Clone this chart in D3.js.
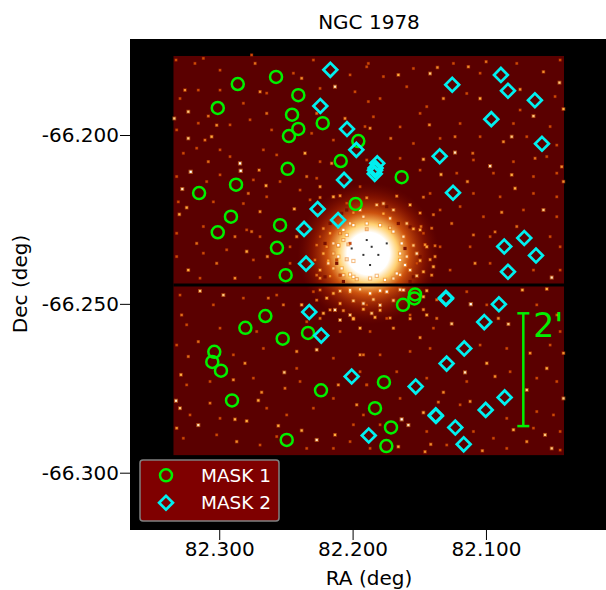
<!DOCTYPE html>
<html>
<head>
<meta charset="utf-8">
<script src="https://d3js.org/d3.v7.min.js"></script>
<style>
  html, body { margin: 0; padding: 0; background: #fff; }
  text { font-family: "DejaVu Sans", sans-serif; }
</style>
</head>
<body>
<svg id="chart" width="606" height="590"></svg>
<script>
// Values, in RA / Dec degrees.
const xTicks = [82.3, 82.2, 82.1];
const yTicks = [-66.2, -66.25, -66.3];

const mask1 = [
  [82.2861, -66.1849], [82.2574, -66.1828], [82.3011, -66.1920], [82.2407, -66.1882],
  [82.2454, -66.1940], [82.2224, -66.1965], [82.2407, -66.1982], [82.2477, -66.2003],
  [82.1957, -66.2018], [82.2089, -66.2077], [82.2487, -66.2100], [82.2874, -66.2147],
  [82.3151, -66.2172], [82.1977, -66.2204], [82.2912, -66.2242], [82.2544, -66.2267],
  [82.3011, -66.2288], [82.2567, -66.2334], [82.2502, -66.2415], [82.1632, -66.2125],
  [82.2654, -66.2536], [82.2804, -66.2571], [82.2524, -66.2603], [82.2334, -66.2586],
  [82.3037, -66.2642], [82.3052, -66.2672], [82.2987, -66.2698], [82.2904, -66.2786],
  [82.2237, -66.2756], [82.2494, -66.2903], [82.1532, -66.2472], [82.1537, -66.2484],
  [82.1622, -66.2503], [82.1765, -66.2732], [82.1832, -66.2809], [82.1712, -66.2866],
  [82.1747, -66.2921]
];

const mask2 = [
  [82.2167, -66.1807], [82.2242, -66.1914], [82.2042, -66.1982], [82.1972, -66.2044],
  [82.2064, -66.2133], [82.2262, -66.2219], [82.2109, -66.2252], [82.2364, -66.2278],
  [82.2349, -66.2381], [82.1253, -66.1851], [82.0888, -66.1822], [82.0835, -66.1869],
  [82.0633, -66.1897], [82.0960, -66.1953], [82.0580, -66.2026], [82.1347, -66.2063],
  [82.1815, -66.2084], [82.1828, -66.2098], [82.1832, -66.2104], [82.1834, -66.2115],
  [82.1247, -66.2171], [82.0713, -66.2305], [82.0863, -66.2330], [82.0625, -66.2357],
  [82.0835, -66.2405], [82.2325, -66.2524], [82.2235, -66.2594], [82.2007, -66.2715],
  [82.1879, -66.2890], [82.1300, -66.2482], [82.1300, -66.2485], [82.0903, -66.2501],
  [82.1013, -66.2554], [82.1163, -66.2632], [82.1295, -66.2677], [82.1527, -66.2745],
  [82.1377, -66.2830], [82.1375, -66.2832], [82.1230, -66.2866], [82.1002, -66.2814],
  [82.0860, -66.2777], [82.1167, -66.2916]
];

// Brighter field stars picked out of the image by eye: ra, dec, brightness (0..1).
const fieldStars = [
  [82.2844, -66.2084, 1], [82.3214, -66.2109, 1], [82.2839, -66.2106, 1], [82.3277, -66.2160, .9],
  [82.2701, -66.2104, .6], [82.2649, -66.2150, .7], [82.2437, -66.2219, .7], [82.3244, -66.2215, .7],
  [82.3232, -66.1931, .8], [82.3257, -66.1867, .6], [82.3019, -66.1971, .6], [82.3232, -66.2010, .8],
  [82.3082, -66.1944, .5], [82.3337, -66.1951, .8], [82.2694, -66.1872, .6], [82.2731, -66.1788, .5],
  [82.2382, -66.1832, .6], [82.2132, -66.1857, .9], [82.2269, -66.1936, .5], [82.2057, -66.1951, .6],
  [82.2644, -66.1936, .5], [82.3107, -66.2015, .5], [82.3057, -66.2005, .7], [82.2794, -66.2345, .7],
  [82.2639, -66.2360, .6], [82.2882, -66.2301, .5], [82.3299, -66.2235, .7], [82.2157, -66.2084, .6],
  [82.2357, -66.2054, .7], [82.2244, -66.2153, .6], [82.2144, -66.2183, .7], [82.2344, -66.2123, .5],
  [82.2694, -66.2227, .6], [82.2419, -66.2301, .6], [82.2194, -66.2331, .6], [82.2094, -66.2291, .7],
  [82.2757, -66.2286, .5], [82.3232, -66.2400, .7], [82.3019, -66.2380, .5], [82.2882, -66.2424, .6],
  [82.2244, -66.2424, .6], [82.3169, -66.2321, .5], [82.2782, -66.2173, .5], [82.3082, -66.2079, .5],

  [82.1657, -66.1822, .7], [82.1419, -66.1818, .8], [82.1364, -66.1800, .6], [82.1132, -66.1798, .6],
  [82.0999, -66.1783, .5], [82.0569, -66.1813, .6], [82.0449, -66.1845, .8], [82.1319, -66.1892, .6],
  [82.1044, -66.1892, .7], [82.0744, -66.1865, .6], [82.0419, -66.1923, .7], [82.0644, -66.1944, .8],
  [82.1424, -66.1970, .6], [82.1232, -66.2052, .9], [82.1099, -66.2054, .5], [82.1869, -66.1980, .6],
  [82.1714, -66.2010, .5], [82.1469, -66.2072, .7], [82.1337, -66.2117, .7], [82.1232, -66.2005, .5],
  [82.0869, -66.2020, .6], [82.0807, -66.2005, .8], [82.0969, -66.2092, .9], [82.0632, -66.2069, .5],
  [82.0432, -66.2094, .6], [82.0807, -66.2118, .7], [82.1139, -66.2138, .6], [82.0782, -66.2158, .7],
  [82.0569, -66.2222, .8], [82.0882, -66.2229, .6], [82.0769, -66.2271, .5], [82.1382, -66.2360, .6],
  [82.1487, -66.2271, .5], [82.0507, -66.2422, .9], [82.1094, -66.2296, .5], [82.1257, -66.2262, .5],
  [82.0932, -66.2287, .5], [82.0419, -66.2138, .6], [82.1082, -66.2380, .6],

  [82.3144, -66.2462, .8], [82.2969, -66.2474, .8], [82.3324, -66.2787, .9], [82.3294, -66.2809, .8],
  [82.2882, -66.2842, .7], [82.3157, -66.2859, .9], [82.2794, -66.2847, .7], [82.2557, -66.2861, .7],
  [82.2382, -66.2875, .7], [82.2269, -66.2903, .9], [82.2132, -66.2888, .7], [82.2707, -66.2786, .7],
  [82.2894, -66.2725, .6], [82.2512, -66.2703, .8], [82.2682, -66.2762, .6], [82.3287, -66.2710, .7],
  [82.3319, -66.2868, .6], [82.1944, -66.2651, .6], [82.2094, -66.2548, .8], [82.2107, -66.2740, .6],
  [82.2269, -66.2636, .8], [82.2507, -66.2750, .5], [82.2807, -66.2676, .6], [82.2419, -66.2641, .6],
  [82.3069, -66.2794, .5], [82.3157, -66.2612, .5], [82.3232, -66.2656, .5], [82.1969, -66.2799, .6],
  [82.2132, -66.2518, .9], [82.2382, -66.2503, .7], [82.2194, -66.2483, .7], [82.2019, -66.2464, .8],
  [82.1994, -66.2543, .7], [82.2632, -66.2483, .5], [82.3282, -66.2533, .5], [82.2869, -66.2908, .6],
  [82.1944, -66.2572, .7], [82.2519, -66.2503, .5],

  [82.1114, -66.2501, 1], [82.0727, -66.2459, .7], [82.0544, -66.2456, .7], [82.0832, -66.2560, .8],
  [82.0907, -66.2543, .6], [82.0669, -66.2646, .6], [82.0994, -66.2676, .7], [82.1157, -66.2703, .9],
  [82.0932, -66.2715, .6], [82.0419, -66.2780, .8], [82.0694, -66.2755, .8], [82.1632, -66.2842, 1],
  [82.1469, -66.2822, .7], [82.1582, -66.2859, .9], [82.1357, -66.2791, .5], [82.1319, -66.2762, .6],
  [82.1257, -66.2559, .8], [82.1494, -66.2600, .6], [82.1919, -66.2651, .5], [82.1832, -66.2540, .7],
  [82.1694, -66.2572, .6], [82.0544, -66.2691, .7], [82.0419, -66.2646, .6], [82.0557, -66.2888, .8],
  [82.0794, -66.2873, .7], [82.0694, -66.2908, .6], [82.1414, -66.2916, .6], [82.1027, -66.2935, .6],
  [82.1457, -66.2938, .6], [82.1657, -66.2923, .7], [82.0507, -66.2928, .8], [82.1119, -66.2789, .6]
];

// Fainter specks, also placed by eye, one brightness for the lot.
const faintStars = [
  [82.3324, -66.1778], [82.3182, -66.1788], [82.3119, -66.1773], [82.2994, -66.1808], [82.2757, -66.1763],
  [82.2444, -66.1817], [82.2294, -66.1778], [82.2019, -66.1822], [82.1894, -66.1798], [82.3294, -66.1892],
  [82.3157, -66.1867], [82.2994, -66.1867], [82.2819, -66.1906], [82.2644, -66.1876], [82.2244, -66.1862],
  [82.1982, -66.1872], [82.1882, -66.1901], [82.3319, -66.1985], [82.3157, -66.1965], [82.2919, -66.1970],
  [82.2769, -66.1955], [82.2607, -66.1985], [82.2307, -66.1995], [82.2144, -66.2015], [82.1907, -66.1975],
  [82.3269, -66.2054], [82.3169, -66.2039], [82.2994, -66.2044], [82.2919, -66.2064], [82.2669, -66.2044],
  [82.2569, -66.2059], [82.2244, -66.2079], [82.1894, -66.2074], [82.3319, -66.2123], [82.3094, -66.2138],
  [82.2994, -66.2118], [82.2744, -66.2133], [82.2544, -66.2138], [82.2394, -66.2163], [82.2269, -66.2128],
  [82.1944, -66.2153], [82.3307, -66.2198], [82.3044, -66.2198], [82.2819, -66.2203], [82.2644, -66.2183],
  [82.2319, -66.2192], [82.2044, -66.2202], [82.3319, -66.2291], [82.3119, -66.2271], [82.2794, -66.2281],
  [82.2694, -66.2301], [82.2469, -66.2331], [82.2244, -66.2301], [82.2019, -66.2321], [82.3319, -66.2360],
  [82.3119, -66.2350], [82.2944, -66.2340], [82.2744, -66.2370], [82.2469, -66.2380], [82.2119, -66.2370],
  [82.2094, -66.2415], [82.3144, -66.2424], [82.2694, -66.2422],

  [82.1882, -66.1788], [82.1769, -66.1827], [82.1544, -66.1803], [82.1244, -66.1788], [82.1044, -66.1817],
  [82.0769, -66.1788], [82.0444, -66.1778], [82.1794, -66.1892], [82.1594, -66.1857], [82.1444, -66.1916],
  [82.1144, -66.1877], [82.0744, -66.1926], [82.0482, -66.1886], [82.1844, -66.1946], [82.1644, -66.1976],
  [82.1494, -66.1936], [82.1194, -66.1966], [82.0794, -66.1966], [82.0519, -66.1975], [82.1544, -66.2025],
  [82.1344, -66.2010], [82.1044, -66.2005], [82.0694, -66.2005], [82.0469, -66.2030], [82.1644, -66.2069],
  [82.1094, -66.2074], [82.0794, -66.2079], [82.0544, -66.2064], [82.1494, -66.2104], [82.1219, -66.2113],
  [82.0944, -66.2113], [82.0644, -66.2123], [82.0469, -66.2113], [82.1419, -66.2173], [82.1094, -66.2173],
  [82.0894, -66.2183], [82.0644, -66.2173], [82.0469, -66.2183], [82.1344, -66.2222], [82.1194, -66.2212],
  [82.1019, -66.2242], [82.0719, -66.2222], [82.0469, -66.2242], [82.1469, -66.2291], [82.1119, -66.2331],
  [82.0969, -66.2301], [82.0519, -66.2301], [82.0444, -66.2331], [82.1519, -66.2380], [82.1269, -66.2400],
  [82.0969, -66.2380], [82.0644, -66.2400], [82.0444, -66.2400], [82.1344, -66.2331],

  [82.3294, -66.2474], [82.3044, -66.2503], [82.2819, -66.2483], [82.2569, -66.2474], [82.2294, -66.2464],
  [82.3244, -66.2562], [82.2994, -66.2572], [82.2719, -66.2582], [82.2344, -66.2553], [82.2094, -66.2582],
  [82.1894, -66.2503], [82.3319, -66.2622], [82.2894, -66.2651], [82.2669, -66.2632], [82.2419, -66.2691],
  [82.2144, -66.2661], [82.1944, -66.2701], [82.3244, -66.2740], [82.3069, -66.2730], [82.2744, -66.2720],
  [82.2394, -66.2730], [82.2144, -66.2780], [82.1894, -66.2740], [82.3219, -66.2829], [82.2994, -66.2839],
  [82.2644, -66.2809], [82.2494, -66.2829], [82.2294, -66.2809], [82.1994, -66.2858], [82.3269, -66.2898],
  [82.3019, -66.2888], [82.2694, -66.2918], [82.2569, -66.2893], [82.2344, -66.2928], [82.2144, -66.2928],
  [82.2019, -66.2908],

  [82.1869, -66.2582], [82.1744, -66.2543], [82.1569, -66.2533], [82.1394, -66.2572], [82.1144, -66.2464],
  [82.0994, -66.2503], [82.0619, -66.2503], [82.0469, -66.2533], [82.1794, -66.2651], [82.1569, -66.2641],
  [82.1419, -66.2632], [82.1044, -66.2622], [82.0844, -66.2632], [82.0519, -66.2622], [82.0444, -66.2582],
  [82.1669, -66.2701], [82.1444, -66.2720], [82.1144, -66.2730], [82.0819, -66.2701], [82.0619, -66.2720],
  [82.0469, -66.2730], [82.1894, -66.2740], [82.1644, -66.2780], [82.1194, -66.2799], [82.0844, -66.2839],
  [82.0619, -66.2819], [82.0494, -66.2829], [82.1919, -66.2829], [82.1794, -66.2858], [82.1444, -66.2878],
  [82.1094, -66.2878], [82.0944, -66.2898], [82.0644, -66.2868], [82.0444, -66.2878], [82.1869, -66.2928],
  [82.1294, -66.2918], [82.0844, -66.2928], [82.0444, -66.2933]
];
const faintLevel = 0.38;

// Speckle of resolved stars on the outskirts of the cluster, and the dark pixels in its core.
const clusterStars = [
  [82.1819, -66.2207, .8], [82.1694, -66.2222, .8], [82.1919, -66.2242, .9], [82.1569, -66.2207, .7],
  [82.1594, -66.2262, .8], [82.2019, -66.2262, .9], [82.1494, -66.2281, .7], [82.2169, -66.2291, .7],
  [82.2069, -66.2311, .9], [82.1619, -66.2301, .9], [82.2219, -66.2351, .7], [82.2144, -66.2351, .8],
  [82.1519, -66.2351, .9], [82.1594, -66.2360, .9], [82.1444, -66.2331, .7], [82.2244, -66.2400, .7],
  [82.2144, -66.2395, .8], [82.2069, -66.2415, .9], [82.1569, -66.2400, .9], [82.1469, -66.2405, .7],
  [82.1694, -66.2425, .9], [82.1969, -66.2427, .9], [82.1394, -66.2390, .7], [82.1769, -66.2203, .8],
  [82.2144, -66.2469, .7], [82.2019, -66.2459, .9], [82.1869, -66.2469, 1], [82.1744, -66.2464, 1],
  [82.1619, -66.2459, .9], [82.2094, -66.2499, .7], [82.1919, -66.2499, .9], [82.1794, -66.2504, .9],
  [82.1469, -66.2479, .7], [82.2219, -66.2528, .7], [82.2019, -66.2533, .8], [82.1857, -66.2528, .8],
  [82.1444, -66.2533, .7],

  [82.2244, -66.2185, .5], [82.2094, -66.2180, .6], [82.1894, -66.2186, .6], [82.1669, -66.2181, .6],
  [82.1469, -66.2184, .5], [82.2269, -66.2235, .5], [82.1994, -66.2230, .6], [82.1769, -66.2233, .7],
  [82.1494, -66.2231, .6], [82.1394, -66.2236, .5], [82.2219, -66.2277, .6], [82.2107, -66.2274, .7],
  [82.1894, -66.2279, .8], [82.1719, -66.2275, .8], [82.1544, -66.2278, .7], [82.1407, -66.2276, .5],
  [82.2269, -66.2326, .5], [82.2107, -66.2328, .8], [82.2032, -66.2324, .8], [82.1544, -66.2327, .8],
  [82.1457, -66.2325, .6], [82.1382, -66.2328, .5], [82.2282, -66.2370, .5], [82.2182, -66.2372, .7],
  [82.2044, -66.2368, .9], [82.1994, -66.2373, 1], [82.1644, -66.2370, 1], [82.1494, -66.2372, .7],
  [82.1419, -66.2369, .6], [82.2269, -66.2415, .5], [82.2169, -66.2418, .6], [82.2019, -66.2413, 1],
  [82.1819, -66.2417, 1], [82.1644, -66.2414, .9], [82.1519, -66.2417, .8], [82.1407, -66.2415, .6],
  [82.2244, -66.2459, .5], [82.2094, -66.2462, .8], [82.1944, -66.2457, .9], [82.1794, -66.2461, 1],
  [82.1644, -66.2458, .9], [82.1444, -66.2461, .7], [82.2269, -66.2489, .5], [82.1994, -66.2491, .8],
  [82.1844, -66.2487, .8], [82.1694, -66.2490, .8], [82.1369, -66.2488, .5], [82.2169, -66.2518, .6],
  [82.2069, -66.2520, .6], [82.1919, -66.2516, .7], [82.1794, -66.2519, .7], [82.1469, -66.2517, .6],
  [82.2244, -66.2543, .5], [82.1994, -66.2545, .7], [82.1719, -66.2542, .6], [82.1569, -66.2544, .6],
  [82.1369, -66.2543, .5],

  [82.2069, -66.2281, 1], [82.1994, -66.2267, 1], [82.1894, -66.2262, 1], [82.1794, -66.2267, 1],
  [82.1694, -66.2286, 1], [82.1632, -66.2321, 1], [82.1644, -66.2351, 1], [82.1607, -66.2385, 1],
  [82.1669, -66.2410, 1], [82.1757, -66.2429, 1], [82.1869, -66.2425, 1], [82.1994, -66.2420, 1],
  [82.2082, -66.2395, 1], [82.2107, -66.2360, 1], [82.2107, -66.2326, 1], [82.2044, -66.2296, 1],
  [82.2144, -66.2321, .9], [82.2182, -66.2380, .9], [82.1719, -66.2247, .9], [82.1944, -66.2222, .9]
];
const clusterGaps = [
  [82.2169, -66.2262], [82.2044, -66.2222], [82.1744, -66.2212], [82.1569, -66.2272], [82.1494, -66.2360],
  [82.1544, -66.2420], [82.2207, -66.2420], [82.2207, -66.2321], [82.2119, -66.2380], [82.2082, -66.2232],
  [82.1657, -66.2262], [82.1607, -66.2336], [82.2069, -66.2434], [82.1569, -66.2434]
];
const coreHoles = [
  [82.1894, -66.2311], [82.1857, -66.2331], [82.1919, -66.2355], [82.1807, -66.2355],
  [82.1869, -66.2385], [82.1744, -66.2321], [82.2007, -66.2336]
];

// Extent of the exposure, its chip gap, and the cluster centre.
const skyRA = [82.3343, 82.0415];
const skyDec = [-66.1766, -66.2948];
const gapDec = -66.2444;
const clusterCentre = [82.1882, -66.2351];
const clusterRadius = 0.053; // deg of RA

// Scale bar, 2 arcmin.
const barRA = 82.0720;
const barDec = [-66.2528, -66.2862];

const width = 606, height = 590;
const margin = { top: 39, right: 0, bottom: 60, left: 130 };
const svg = d3.select("#chart");

const x = d3.scaleLinear().domain([82.3669, 82.0100]).range([margin.left, width - margin.right]);
const y = d3.scaleLinear().domain([-66.17157, -66.31697]).range([margin.top, height - margin.bottom]);

const heat = d3.scaleLinear()
  .domain([0, .35, .7, 1])
  .range(["#5a0000", "#c84000", "#ffb040", "#ffffff"])
  .clamp(true);

const defs = svg.append("defs");
const glow = defs.append("radialGradient").attr("id", "glow");
[[0, "#fff", 1], [.3, "#fff", 1], [.42, "#ffd070", 1], [.58, "#e06010", .85], [.8, "#a02000", .55], [1, "#7a0f00", 0]]
  .forEach(s => glow.append("stop").attr("offset", s[0]).attr("stop-color", s[1]).attr("stop-opacity", s[2]));
defs.append("clipPath").attr("id", "frame").append("rect")
  .attr("x", margin.left).attr("y", margin.top)
  .attr("width", width - margin.left - margin.right)
  .attr("height", height - margin.top - margin.bottom);

// Black frame and the exposure.
svg.append("rect")
  .attr("x", margin.left).attr("y", margin.top)
  .attr("width", width - margin.left - margin.right)
  .attr("height", height - margin.top - margin.bottom)
  .attr("fill", "#000");
svg.append("rect")
  .attr("x", x(skyRA[0])).attr("y", y(skyDec[0]))
  .attr("width", x(skyRA[1]) - x(skyRA[0])).attr("height", y(skyDec[1]) - y(skyDec[0]))
  .attr("fill", "#5a0000");

const plot = svg.append("g").attr("clip-path", "url(#frame)");

const rr = x(clusterCentre[0]) - x(clusterCentre[0] + clusterRadius);
plot.append("circle")
  .attr("cx", x(clusterCentre[0])).attr("cy", y(clusterCentre[1]))
  .attr("r", rr).attr("fill", "url(#glow)");

plot.append("g").selectAll("rect")
  .data(clusterGaps)
  .join("rect")
  .attr("x", d => x(d[0]) - 1.6).attr("y", d => y(d[1]) - 1.6)
  .attr("width", 3.2).attr("height", 3.2)
  .attr("fill", "#7a1000");

// Every star is a small square image pixel on a slightly larger orange one.
const stars = fieldStars.concat(clusterStars, faintStars.map(d => [d[0], d[1], faintLevel]));
const haloSize = d => 2.6 + d[2] * 1.6;
plot.append("g").selectAll("rect")
  .data(stars)
  .join("rect")
  .attr("x", d => x(d[0]) - haloSize(d) / 2).attr("y", d => y(d[1]) - haloSize(d) / 2)
  .attr("width", haloSize).attr("height", haloSize)
  .attr("fill", d => heat(d[2] * .6))
  .attr("opacity", .6);
plot.append("g").selectAll("rect")
  .data(stars)
  .join("rect")
  .attr("x", d => x(d[0]) - 1.1).attr("y", d => y(d[1]) - 1.1)
  .attr("width", 2.2).attr("height", 2.2)
  .attr("fill", d => heat(d[2]));
plot.append("g").selectAll("rect")
  .data(coreHoles)
  .join("rect")
  .attr("x", d => x(d[0]) - 1).attr("y", d => y(d[1]) - 1)
  .attr("width", 2).attr("height", 2)
  .attr("fill", "#333");

// Chip gap.
plot.append("line")
  .attr("x1", x(skyRA[0])).attr("x2", x(skyRA[1]))
  .attr("y1", y(gapDec)).attr("y2", y(gapDec))
  .attr("stroke", "#000").attr("stroke-width", 3);

const circleColor = "#00f000", diamondColor = "#00f0f0";

plot.append("g").selectAll("circle")
  .data(mask1)
  .join("circle")
  .attr("cx", d => x(d[0])).attr("cy", d => y(d[1]))
  .attr("r", 6).attr("fill", "none")
  .attr("stroke", circleColor).attr("stroke-width", 2.5);

const diamond = d3.symbol().type(d3.symbolSquare).size(95);
plot.append("g").selectAll("path")
  .data(mask2)
  .join("path")
  .attr("d", diamond)
  .attr("transform", d => `translate(${x(d[0])},${y(d[1])}) rotate(45)`)
  .attr("fill", "none")
  .attr("stroke", diamondColor).attr("stroke-width", 2.7);

// Scale bar.
const bar = plot.append("g").attr("stroke", circleColor).attr("stroke-width", 2.5);
bar.append("line").attr("x1", x(barRA)).attr("x2", x(barRA)).attr("y1", y(barDec[0])).attr("y2", y(barDec[1]));
barDec.forEach(d => bar.append("line")
  .attr("x1", x(barRA) - 6).attr("x2", x(barRA) + 6).attr("y1", y(d)).attr("y2", y(d)));
plot.append("text")
  .attr("x", x(barRA) + 10).attr("y", y(barDec[0]) + 24)
  .attr("font-size", 33).attr("fill", circleColor)
  .text("2'");

// Axes. Plain hyphen in the labels, as in the picture.
const tickText = d => d.toFixed(3);
const xAxis = d3.axisBottom(x).tickValues(xTicks).tickFormat(tickText).tickSize(10).tickPadding(2);
const yAxis = d3.axisLeft(y).tickValues(yTicks).tickFormat(tickText).tickSize(10).tickPadding(1);
const gx = svg.append("g").attr("transform", `translate(0,${height - margin.bottom})`).call(xAxis);
const gy = svg.append("g").attr("transform", `translate(${margin.left},0)`).call(yAxis);
[gx, gy].forEach(g => {
  g.select(".domain").remove();
  g.selectAll("line").attr("stroke", "#000").attr("stroke-width", 1);
  g.selectAll("text").attr("font-size", 20).attr("fill", "#000")
    .attr("font-family", '"DejaVu Sans"');
});

svg.append("text").attr("x", 369).attr("y", 29).attr("text-anchor", "middle")
  .attr("font-size", 20).text("NGC 1978");
svg.append("text").attr("x", 369).attr("y", 585).attr("text-anchor", "middle")
  .attr("font-size", 20).text("RA (deg)");
svg.append("text").attr("transform", "translate(27,284) rotate(-90)").attr("text-anchor", "middle")
  .attr("font-size", 20).text("Dec (deg)");

// Legend.
const legend = svg.append("g").attr("transform", "translate(140,460)");
legend.append("rect").attr("width", 139).attr("height", 61).attr("rx", 3)
  .attr("fill", "#7f0000").attr("stroke", "#808080").attr("stroke-width", 1.5);
legend.append("circle").attr("cx", 26).attr("cy", 15.3).attr("r", 6)
  .attr("fill", "none").attr("stroke", circleColor).attr("stroke-width", 2.5);
legend.append("path").attr("d", diamond).attr("transform", "translate(26,42.7) rotate(45)")
  .attr("fill", "none").attr("stroke", diamondColor).attr("stroke-width", 2.7);
["MASK 1", "MASK 2"].forEach((t, i) => legend.append("text")
  .attr("x", 61).attr("y", 21.7 + i * 27.3)
  .attr("font-size", 18.5).attr("fill", "#fff").text(t));
</script>
</body>
</html>
